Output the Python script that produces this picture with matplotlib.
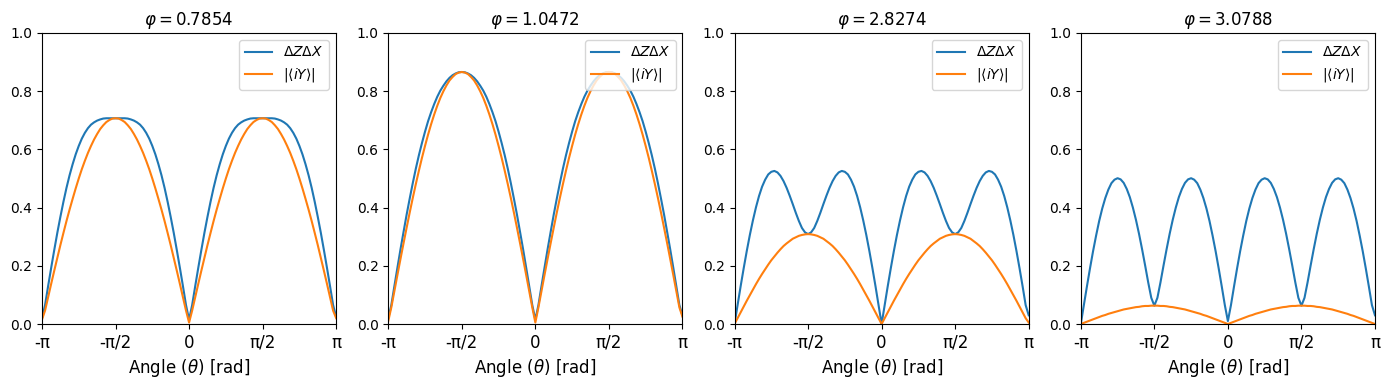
import numpy as np
import matplotlib
matplotlib.use("Agg")
import matplotlib.pyplot as plt

# ── Data ────────────────────────────────────────────────────────────
# theta grid: -pi .. pi in steps of pi/48 (97 points)
N_PTS = 97

phi_labels = ["0.7854", "1.0472", "2.8274", "3.0788"]

dzdx_1 = [0.02, 0.065, 0.130, 0.193, 0.254, 0.313, 0.368, 0.420, 0.468, 0.511, 0.549, 0.583, 0.612,
          0.637, 0.657, 0.673, 0.685, 0.693, 0.699, 0.703, 0.706, 0.707, 0.707, 0.707, 0.707,
          0.707, 0.707, 0.707, 0.706, 0.703, 0.699, 0.693, 0.685, 0.673, 0.657, 0.637, 0.612,
          0.583, 0.549, 0.511, 0.468, 0.420, 0.368, 0.313, 0.254, 0.193, 0.130, 0.065, 0.015,
          0.065, 0.130, 0.193, 0.254, 0.313, 0.368, 0.420, 0.468, 0.511, 0.549, 0.583, 0.612,
          0.637, 0.657, 0.673, 0.685, 0.693, 0.699, 0.703, 0.706, 0.707, 0.707, 0.707, 0.707,
          0.707, 0.707, 0.707, 0.706, 0.703, 0.699, 0.693, 0.685, 0.673, 0.657, 0.637, 0.612,
          0.583, 0.549, 0.511, 0.468, 0.420, 0.368, 0.313, 0.254, 0.193, 0.130, 0.065, 0.025]
iy_1 = [0.015, 0.046, 0.092, 0.138, 0.183, 0.227, 0.271, 0.313, 0.354, 0.393, 0.430, 0.466, 0.500,
        0.532, 0.561, 0.588, 0.612, 0.634, 0.653, 0.670, 0.683, 0.694, 0.701, 0.706, 0.707,
        0.706, 0.701, 0.694, 0.683, 0.670, 0.653, 0.634, 0.612, 0.588, 0.561, 0.532, 0.500,
        0.466, 0.430, 0.393, 0.354, 0.313, 0.271, 0.227, 0.183, 0.138, 0.092, 0.046, 0.005,
        0.046, 0.092, 0.138, 0.183, 0.227, 0.271, 0.313, 0.354, 0.393, 0.430, 0.466, 0.500,
        0.532, 0.561, 0.588, 0.612, 0.634, 0.653, 0.670, 0.683, 0.694, 0.701, 0.706, 0.707,
        0.706, 0.701, 0.694, 0.683, 0.670, 0.653, 0.634, 0.612, 0.588, 0.561, 0.532, 0.500,
        0.466, 0.430, 0.393, 0.354, 0.313, 0.271, 0.227, 0.183, 0.138, 0.092, 0.046, 0.02]

dzdx_2 = [0.02, 0.065, 0.130, 0.194, 0.257, 0.317, 0.376, 0.431, 0.484, 0.534, 0.580, 0.622, 0.661,
          0.697, 0.728, 0.756, 0.781, 0.802, 0.819, 0.834, 0.846, 0.855, 0.861, 0.865, 0.866,
          0.865, 0.861, 0.855, 0.846, 0.834, 0.819, 0.802, 0.781, 0.756, 0.728, 0.697, 0.661,
          0.622, 0.580, 0.534, 0.484, 0.431, 0.376, 0.317, 0.257, 0.194, 0.130, 0.065, 0.015,
          0.065, 0.130, 0.194, 0.257, 0.317, 0.376, 0.431, 0.484, 0.534, 0.580, 0.622, 0.661,
          0.697, 0.728, 0.756, 0.781, 0.802, 0.819, 0.834, 0.846, 0.855, 0.861, 0.865, 0.866,
          0.865, 0.861, 0.855, 0.846, 0.834, 0.819, 0.802, 0.781, 0.756, 0.728, 0.697, 0.661,
          0.622, 0.580, 0.534, 0.484, 0.431, 0.376, 0.317, 0.257, 0.194, 0.130, 0.065, 0.03]
iy_2 = [0.01, 0.057, 0.113, 0.169, 0.224, 0.278, 0.331, 0.383, 0.433, 0.481, 0.527, 0.571, 0.612,
        0.651, 0.687, 0.720, 0.750, 0.777, 0.800, 0.820, 0.837, 0.849, 0.859, 0.864, 0.866,
        0.864, 0.859, 0.849, 0.837, 0.820, 0.800, 0.777, 0.750, 0.720, 0.687, 0.651, 0.612,
        0.571, 0.527, 0.481, 0.433, 0.383, 0.331, 0.278, 0.224, 0.169, 0.113, 0.057, 0.005,
        0.057, 0.113, 0.169, 0.224, 0.278, 0.331, 0.383, 0.433, 0.481, 0.527, 0.571, 0.612,
        0.651, 0.687, 0.720, 0.750, 0.777, 0.800, 0.820, 0.837, 0.849, 0.859, 0.864, 0.866,
        0.864, 0.859, 0.849, 0.837, 0.820, 0.800, 0.777, 0.750, 0.720, 0.687, 0.651, 0.612,
        0.571, 0.527, 0.481, 0.433, 0.383, 0.331, 0.278, 0.224, 0.169, 0.113, 0.057, 0.025]

dzdx_3 = [0.0, 0.065, 0.130, 0.192, 0.251, 0.306, 0.356, 0.401, 0.440, 0.472, 0.496, 0.514, 0.523,
          0.526, 0.521, 0.509, 0.491, 0.468, 0.441, 0.412, 0.382, 0.354, 0.330, 0.315, 0.309,
          0.315, 0.330, 0.354, 0.382, 0.412, 0.441, 0.468, 0.491, 0.509, 0.521, 0.526, 0.523,
          0.514, 0.496, 0.472, 0.440, 0.401, 0.356, 0.306, 0.251, 0.192, 0.130, 0.065, 0.0,
          0.065, 0.130, 0.192, 0.251, 0.306, 0.356, 0.401, 0.440, 0.472, 0.496, 0.514, 0.523,
          0.526, 0.521, 0.509, 0.491, 0.468, 0.441, 0.412, 0.382, 0.354, 0.330, 0.315, 0.309,
          0.315, 0.330, 0.354, 0.382, 0.412, 0.441, 0.468, 0.491, 0.509, 0.521, 0.526, 0.523,
          0.514, 0.496, 0.472, 0.440, 0.401, 0.356, 0.306, 0.251, 0.192, 0.130, 0.065, 0.03]
iy_3 = [0.0, 0.020, 0.040, 0.060, 0.080, 0.099, 0.118, 0.137, 0.155, 0.172, 0.188, 0.204, 0.219,
        0.232, 0.245, 0.257, 0.268, 0.277, 0.285, 0.293, 0.298, 0.303, 0.306, 0.308, 0.309,
        0.308, 0.306, 0.303, 0.298, 0.293, 0.285, 0.277, 0.268, 0.257, 0.245, 0.232, 0.219,
        0.204, 0.188, 0.172, 0.155, 0.137, 0.118, 0.099, 0.080, 0.060, 0.040, 0.020, 0.0,
        0.020, 0.040, 0.060, 0.080, 0.099, 0.118, 0.137, 0.155, 0.172, 0.188, 0.204, 0.219,
        0.232, 0.245, 0.257, 0.268, 0.277, 0.285, 0.293, 0.298, 0.303, 0.306, 0.308, 0.309,
        0.308, 0.306, 0.303, 0.298, 0.293, 0.285, 0.277, 0.268, 0.257, 0.245, 0.232, 0.219,
        0.204, 0.188, 0.172, 0.155, 0.137, 0.118, 0.099, 0.080, 0.060, 0.040, 0.020, 0.005]

dzdx_4 = [0.0, 0.065, 0.129, 0.191, 0.250, 0.304, 0.354, 0.397, 0.433, 0.462, 0.484, 0.496, 0.501,
          0.497, 0.485, 0.464, 0.436, 0.400, 0.358, 0.310, 0.257, 0.201, 0.143, 0.090, 0.063,
          0.090, 0.143, 0.201, 0.257, 0.310, 0.358, 0.400, 0.436, 0.464, 0.485, 0.497, 0.501,
          0.496, 0.484, 0.462, 0.433, 0.397, 0.354, 0.304, 0.250, 0.191, 0.129, 0.065, 0.01,
          0.065, 0.129, 0.191, 0.250, 0.304, 0.354, 0.397, 0.433, 0.462, 0.484, 0.496, 0.501,
          0.497, 0.485, 0.464, 0.436, 0.400, 0.358, 0.310, 0.257, 0.201, 0.143, 0.090, 0.063,
          0.090, 0.143, 0.201, 0.257, 0.310, 0.358, 0.400, 0.436, 0.464, 0.485, 0.497, 0.501,
          0.496, 0.484, 0.462, 0.433, 0.397, 0.354, 0.304, 0.250, 0.191, 0.129, 0.065, 0.03]
iy_4 = [0.0, 0.004, 0.008, 0.012, 0.016, 0.020, 0.024, 0.028, 0.031, 0.035, 0.038, 0.041, 0.044,
        0.047, 0.050, 0.052, 0.054, 0.056, 0.058, 0.059, 0.061, 0.062, 0.062, 0.063, 0.063,
        0.063, 0.062, 0.062, 0.061, 0.059, 0.058, 0.056, 0.054, 0.052, 0.050, 0.047, 0.044,
        0.041, 0.038, 0.035, 0.031, 0.028, 0.024, 0.020, 0.016, 0.012, 0.008, 0.004, 0.0,
        0.004, 0.008, 0.012, 0.016, 0.020, 0.024, 0.028, 0.031, 0.035, 0.038, 0.041, 0.044,
        0.047, 0.050, 0.052, 0.054, 0.056, 0.058, 0.059, 0.061, 0.062, 0.062, 0.063, 0.063,
        0.063, 0.062, 0.062, 0.061, 0.059, 0.058, 0.056, 0.054, 0.052, 0.050, 0.047, 0.044,
        0.041, 0.038, 0.035, 0.031, 0.028, 0.024, 0.020, 0.016, 0.012, 0.008, 0.004, 0.0]

tick_labels = ["-π", "-π/2", "0", "π/2", "π"]

# ── Plot ───────────────────────────────────────────────────────────
theta = np.linspace(-np.pi, np.pi, N_PTS)
dzdx_all = [dzdx_1, dzdx_2, dzdx_3, dzdx_4]
iy_all = [iy_1, iy_2, iy_3, iy_4]

fig, axes = plt.subplots(1, 4, figsize=(13.9, 3.9), dpi=100)
fig.subplots_adjust(left=0.0302, right=0.9892, bottom=0.1692, top=0.9154, wspace=0.177)

for ax, phi, dzdx, iy in zip(axes, phi_labels, dzdx_all, iy_all):
    ax.plot(theta, dzdx, color="C0", label=r"$\Delta Z \Delta X$")
    ax.plot(theta, iy, color="C1", label=r"$|\langle iY \rangle|$")
    ax.set_title(rf"$\varphi = {phi}$")
    ax.set_xlim(-np.pi, np.pi)
    ax.set_ylim(0, 1)
    ax.set_xticks([-np.pi, -np.pi / 2, 0, np.pi / 2, np.pi])
    ax.set_xticklabels(tick_labels, fontsize=12)
    ax.set_xlabel(r"Angle ($\theta$) [rad]", fontsize=12)
    ax.legend(loc="upper right")

fig.savefig("out.png", dpi=100)
